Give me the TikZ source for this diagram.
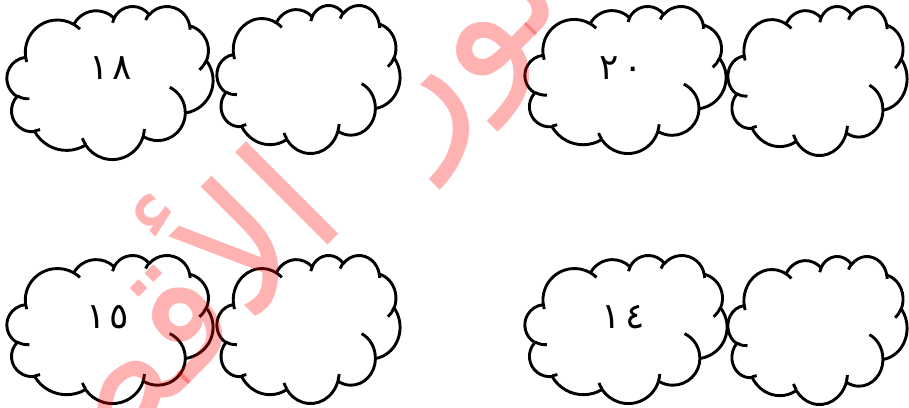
\documentclass[tikz,border=0pt]{standalone}
\usepackage{fontspec}
\newfontfamily\arabicfont[Script=Arabic]{DejaVu Sans}
\TeXXeTstate=1
\makeatletter
\newcommand\cldarc[5]{%
  \pgfmathsetmacro\cld@s{atan2((#2)*sin(#4),(#3)*cos(#4))}%
  \pgfmathsetmacro\cld@e{atan2((#2)*sin((#4)+(#5)),(#3)*cos((#4)+(#5)))}%
  \pgfmathsetmacro\cld@d{mod((\cld@e)-(\cld@s)+720,360)}%
  \expandafter\xdef\csname cS#1\endcsname{\cld@s}%
  \expandafter\xdef\csname cD#1\endcsname{\cld@d}%
}
\makeatother
% main outline arcs
\cldarc{a}{67.53}{91.90}{-190.48748}{123.78053}
\cldarc{b}{53.33}{72.67}{-144.10238}{89.94523}
\cldarc{c}{43.65}{59.45}{-145.80792}{99.72302}
\cldarc{d}{48.57}{65.95}{-130.98607}{117.24173}
\cldarc{e}{53.33}{72.73}{-78.70888}{109.02692}
\cldarc{f}{67.75}{92.20}{-46.26725}{130.269}
\cldarc{g}{57.85}{78.67}{0.62502}{114.03333}
\cldarc{h}{67.52}{92.15}{22.4516}{115.17255}
\cldarc{i}{77.20}{105.43}{66.24263}{75.71102}
\cldarc{j}{43.60}{59.18}{-274.94208}{146.73557}
\cldarc{k}{43.45}{59.45}{-246.8285}{152.51885}
% inner hooks
\cldarc{A}{43.45}{59.45}{86.742}{26.4295}
\cldarc{B}{43.60}{59.18}{73.61047}{11.44747}
\cldarc{C}{67.52}{92.15}{137.62415}{14.0811}
\cldarc{D}{67.52}{92.15}{6.45327}{15.99835}
\cldarc{E}{57.85}{78.67}{-70.29235}{70.91737}
\cldarc{F}{53.33}{72.73}{30.31803}{27.7515}
\cldarc{G}{48.57}{65.95}{-13.74433}{14.8589}
\cldarc{H}{48.57}{65.95}{-149.18145}{18.19537}
\cldarc{I}{43.65}{59.45}{-163.49427}{17.68635}
\cldarc{J}{67.53}{91.90}{-66.70695}{12.31935}
\cldarc{K}{67.53}{91.90}{157.65435}{11.85817}
\tikzset{
  cloudline/.style={draw=black, line width=2.9pt, line join=round},
  num/.style={font=\arabicfont\fontsize{36}{40}\selectfont, anchor=base, inner sep=0pt},
  wm/.style={font=\arabicfont\fontsize{172}{174}\selectfont, text=red, text opacity=0.3, rotate=45, inner sep=0pt},
  pics/cloudshape/.style={code={
    \path[cloudline, fill=white] (39.00,143.70)
      arc[x radius=67.53, y radius=91.90, start angle=\cSa, delta angle=\cDa]
      arc[x radius=53.33, y radius=72.67, start angle=\cSb, delta angle=\cDb]
      arc[x radius=43.65, y radius=59.45, start angle=\cSc, delta angle=\cDc]
      arc[x radius=48.57, y radius=65.95, start angle=\cSd, delta angle=\cDd]
      arc[x radius=53.33, y radius=72.73, start angle=\cSe, delta angle=\cDe]
      arc[x radius=67.75, y radius=92.20, start angle=\cSf, delta angle=\cDf]
      arc[x radius=57.85, y radius=78.67, start angle=\cSg, delta angle=\cDg]
      arc[x radius=67.52, y radius=92.15, start angle=\cSh, delta angle=\cDh]
      arc[x radius=77.20, y radius=105.43, start angle=\cSi, delta angle=\cDi]
      arc[x radius=43.60, y radius=59.18, start angle=\cSj, delta angle=\cDj]
      arc[x radius=43.45, y radius=59.45, start angle=\cSk, delta angle=\cDk]
      -- cycle;
    \path[cloudline]
      (46.93,261.77) arc[x radius=43.45, y radius=59.45, start angle=\cSA, delta angle=\cDA]
      (69.28,348.99) arc[x radius=43.60, y radius=59.18, start angle=\cSB, delta angle=\cDB]
      (164.78,390.90) arc[x radius=67.52, y radius=92.15, start angle=\cSC, delta angle=\cDC]
      (288.27,347.51) arc[x radius=67.52, y radius=92.15, start angle=\cSD, delta angle=\cDD]
      (341.29,229.54) arc[x radius=57.85, y radius=78.67, start angle=\cSE, delta angle=\cDE]
      (417.98,153.54) arc[x radius=53.33, y radius=72.73, start angle=\cSF, delta angle=\cDF]
      (383.24,54.26) arc[x radius=48.57, y radius=65.95, start angle=\cSG, delta angle=\cDG]
      (290.78,39.52) arc[x radius=48.57, y radius=65.95, start angle=\cSH, delta angle=\cDH]
      (221.41,47.20) arc[x radius=43.65, y radius=59.45, start angle=\cSI, delta angle=\cDI]
      (140.00,51.92) arc[x radius=67.53, y radius=91.90, start angle=\cSJ, delta angle=\cDJ]
      (41.27,157.89) arc[x radius=67.53, y radius=91.90, start angle=\cSK, delta angle=\cDK];
  }},
}
\newcommand\cloudbox[5]{%
  \pgfmathsetmacro\cbx{(#4-#2)/432}%
  \pgfmathsetmacro\cby{(#5-#3)/432}%
  \begin{scope}[shift={(#2,#3)}, x=\cbx pt, y=-\cby pt]
    \pic{cloudshape};
  \end{scope}
  \coordinate (#1) at ({(#2+#4)/2},{(#3+#5)/2});
}
\begin{document}
\begin{tikzpicture}[x=1pt,y=-1pt]
  \useasboundingbox (0,0) rectangle (909,407);
  \clip (0,0) rectangle (909,407);
  \cloudbox{c1}{7}{6}{213}{159}
  \cloudbox{c2}{217}{5}{400}{153}
  \cloudbox{c3}{525}{6}{726}{153}
  \cloudbox{c4}{728}{6}{907}{155}
  \cloudbox{c5}{7}{255}{213}{403}
  \cloudbox{c6}{217}{255}{400}{403}
  \cloudbox{c7}{525}{255}{727}{403}
  \cloudbox{c8}{728}{256}{907}{404}
  \node[num] (n18) at (111,79) {١\kern4pt٨};
  \node[num] (n20) at (621,79) {٢\kern5pt٠};
  \node[num] (n15) at (108,328) {١\kern4pt٥};
  \node[num] (n14) at (623,328) {١\kern4pt٤};
  \node[wm, anchor=base east] (wm2) at (351,222) {\beginR الأقصى\endR};
  \node[wm, anchor=base west] (wm1) at (415,156) {\beginR نور\endR};
\end{tikzpicture}
\end{document}
